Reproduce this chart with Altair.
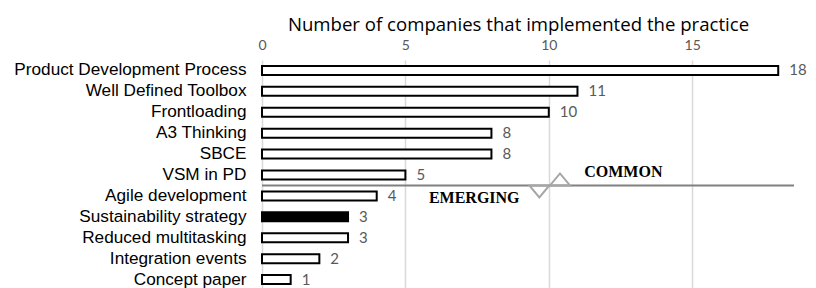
import altair as alt
import pandas as pd

practices = ["Product Development Process", "Well Defined Toolbox", "Frontloading",
             "A3 Thinking", "SBCE", "VSM in PD", "Agile development",
             "Sustainability strategy", "Reduced multitasking", "Integration events",
             "Concept paper"]
counts = [18, 11, 10, 8, 8, 5, 4, 3, 3, 2, 1]
highlight = "Sustainability strategy"

x_max = 18.55
split_between = ["VSM in PD", "Agile development"]
tri_x = [9.67, 10.39]
label_text = ["EMERGING", "COMMON"]
label_x = [7.4, 12.6]
label_row = ["Agile development", "VSM in PD"]

df = pd.DataFrame({"practice": practices, "count": counts})

y_scale = alt.Scale(domain=practices, paddingInner=0, paddingOuter=0)
x_scale = alt.Scale(domain=[0, x_max], nice=False)

y_enc = alt.Y("practice:N", title=None, scale=y_scale,
              axis=alt.Axis(domain=False, ticks=False, labelPadding=16,
                            labelColor="black", labelFont="Liberation Sans",
                            labelFontSize=17.2, labelLimit=400))
x_enc = alt.X("count:Q", title="Number of companies that implemented the practice",
              scale=x_scale,
              axis=alt.Axis(orient="top", values=[0, 5, 10, 15], grid=True,
                            gridColor="#d9d9d9", gridWidth=1.5, domain=False,
                            ticks=False, labelColor="#595959", labelFont="Lato",
                            labelFontSize=14, labelPadding=8, labelFlush=False,
                            titleFont="Open Sans", titleFontSize=18.6,
                            titleFontWeight="normal", titleColor="black",
                            titlePadding=4, titleX=256))

bars = alt.Chart(df).mark_bar(size=9, stroke="black", strokeWidth=2).encode(
    x=x_enc, y=y_enc,
    fill=alt.condition(alt.datum.practice == highlight, alt.value("black"),
                       alt.value("white")))

values = alt.Chart(df).mark_text(align="left", dx=11, font="Lato", fontSize=15,
                                 color="#595959").encode(
    x=alt.X("count:Q", scale=x_scale),
    y=alt.Y("practice:N", scale=y_scale), text="count:Q")

rule_df = pd.DataFrame({"row": [split_between[1]], "x0": [0], "x1": [x_max]})
rule = alt.Chart(rule_df).mark_rule(color="#808080", strokeWidth=2).encode(
    x=alt.X("x0:Q", scale=x_scale), x2="x1:Q",
    y=alt.Y("row:N", scale=y_scale, bandPosition=0))

tri_df = pd.DataFrame({"x": tri_x, "row": [split_between[1]] * 2})
tri_down = alt.Chart(tri_df.iloc[[0]]).mark_point(
    shape="M-1,0L1,0L0,1.2Z", size=400, filled=False, color="#a6a6a6",
    strokeWidth=2, opacity=1).encode(
    x=alt.X("x:Q", scale=x_scale),
    y=alt.Y("row:N", scale=y_scale, bandPosition=0))
tri_up = alt.Chart(tri_df.iloc[[1]]).mark_point(
    shape="M-1,0L1,0L0,-1.2Z", size=400, filled=False, color="#a6a6a6",
    strokeWidth=2, opacity=1).encode(
    x=alt.X("x:Q", scale=x_scale),
    y=alt.Y("row:N", scale=y_scale, bandPosition=0))

lab_df = pd.DataFrame({"text": label_text, "x": label_x, "row": label_row})
lab_em = alt.Chart(lab_df.iloc[[0]]).mark_text(
    font="Liberation Serif", fontWeight="bold", fontSize=16, color="black",
    dy=2).encode(x=alt.X("x:Q", scale=x_scale),
                 y=alt.Y("row:N", scale=y_scale), text="text:N")
lab_co = alt.Chart(lab_df.iloc[[1]]).mark_text(
    font="Liberation Serif", fontWeight="bold", fontSize=16, color="black",
    dy=-3).encode(x=alt.X("x:Q", scale=x_scale),
                  y=alt.Y("row:N", scale=y_scale), text="text:N")

chart = alt.layer(bars, values, rule, tri_down, tri_up, lab_em, lab_co).properties(
    width=532, height=230,
    autosize=alt.AutoSizeParams(type="none"),
    padding={"left": 254, "top": 52, "right": 14, "bottom": 0},
).configure_view(stroke=None)

chart.save("out.html", embed_options={"renderer": "svg", "actions": False})
